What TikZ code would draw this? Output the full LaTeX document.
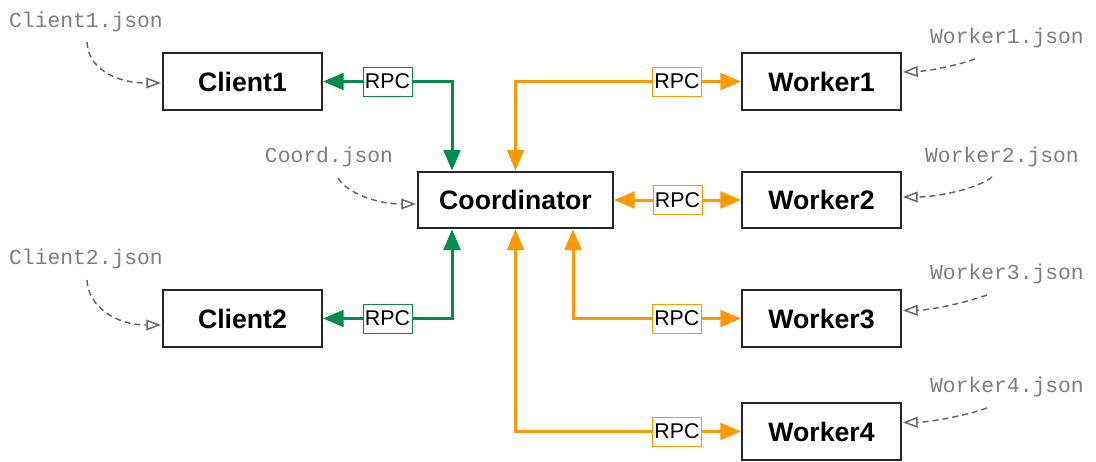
\documentclass[tikz,border=0pt]{standalone}
\usepackage{fontspec}
\setmainfont{Liberation Sans}
\setmonofont{Liberation Mono}
\usepackage{tikz}
\usetikzlibrary{calc}
\usetikzlibrary{positioning}
\usetikzlibrary{arrows.meta}

\definecolor{rpcgreen}{RGB}{0,140,75}
\definecolor{rpcorange}{RGB}{255,153,0}
\definecolor{cfggrey}{RGB}{100,100,100}
\definecolor{cfgtext}{RGB}{125,125,125}

\begin{document}
\begin{tikzpicture}[x=0.75pt,y=0.75pt,yscale=-1,xscale=1,
    proc/.style={draw=black!85, line width=1.5pt, fill=white, minimum height=42.5pt, inner sep=0pt, font=\fontsize{20}{24}\selectfont\bfseries},
    rpc/.style={draw=#1, line width=0.75pt, fill=white, text=black, inner sep=0pt, minimum width=36.75pt, minimum height=21.75pt, font=\fontsize{16}{19}\selectfont},
    cfg/.style={text=cfgtext, inner sep=0.75pt, font=\fontsize{16}{19}\selectfont\ttfamily},
    cfgline/.style={draw=cfggrey, line width=1.1pt, dash pattern=on 4.5pt off 3pt, -{Triangle[open, length=11pt, width=8pt]}},
    gline/.style={draw=rpcgreen, line width=2.25pt, {Triangle[length=15.5pt, width=12.5pt]}-{Triangle[length=15.5pt, width=12.5pt]}},
    oline/.style={draw=rpcorange, line width=2.25pt, {Triangle[length=15.5pt, width=12.5pt]}-{Triangle[length=15.5pt, width=12.5pt]}}
]
    \useasboundingbox (0,0) rectangle (1096,461);

    %Shape: Rectangle
    \node[proc, minimum width=146.25pt] (coord) at (515.5,200) {Coordinator};
    \node[proc, minimum width=119.25pt] (client1) at (242.5,81.5) {Client1};
    \node[proc, minimum width=119.25pt] (client2) at (242.5,318.5) {Client2};
    \node[proc, minimum width=119.25pt] (worker1) at (821.5,81.5) {Worker1};
    \node[proc, minimum width=119.25pt] (worker2) at (821.5,200) {Worker2};
    \node[proc, minimum width=119.25pt] (worker3) at (821.5,318.5) {Worker3};
    \node[proc, minimum width=119.25pt] (worker4) at (821.5,431.5) {Worker4};

    %Connector: RPC links
    \draw[gline] ($(coord.north)+(-63.5,0)$) |- node[rpc=rpcgreen, pos=0.75] {RPC} (client1.east);
    \draw[gline] ($(coord.south)+(-63.5,0)$) |- node[rpc=rpcgreen, pos=0.75] {RPC} (client2.east);
    \draw[oline] (coord.north) |- node[rpc=rpcorange, pos=0.858] {RPC} (worker1.west);
    \draw[oline] (coord.east) -- node[rpc=rpcorange] {RPC} (worker2.west);
    \draw[oline] ($(coord.south)+(57.5,0)$) |- node[rpc=rpcorange, pos=0.809] {RPC} (worker3.west);
    \draw[oline] (coord.south) |- node[rpc=rpcorange, pos=0.858] {RPC} (worker4.west);

    % Text Node
    \draw (86,22) node[cfg] (c1file) {Client1.json};
    % Text Node
    \draw (86,259) node[cfg] (c2file) {Client2.json};
    % Text Node
    \draw (329,157) node[cfg] (cofile) {Coord.json};
    % Text Node
    \draw (1007,38) node[cfg] (w1file) {Worker1.json};
    % Text Node
    \draw (1002,157) node[cfg] (w2file) {Worker2.json};
    % Text Node
    \draw (1007,274) node[cfg] (w3file) {Worker3.json};
    % Text Node
    \draw (1007,387) node[cfg] (w4file) {Worker4.json};

    %Curve: config files
    \coordinate (c1tail) at (87,42);
    \coordinate (c2tail) at (87,280);
    \coordinate (cotail) at (338,178);
    \coordinate (w1tail) at (975,59);
    \coordinate (w2tail) at (992,177);
    \coordinate (w3tail) at (987,295);
    \coordinate (w4tail) at (987,408);
    \draw[cfgline] (c1tail) .. controls (88,68) and (115,83) .. ($(client1.west)+(-1,1.5)$);
    \draw[cfgline] (c2tail) .. controls (88,306) and (115,325) .. ($(client2.west)+(-1,6.5)$);
    \draw[cfgline] (cotail) .. controls (346,192) and (375,204) .. ($(coord.west)+(-1,4)$);
    \draw[cfgline] (w1tail) .. controls (958,65) and (930,71) .. ($(worker1.east)+(1,-9.5)$);
    \draw[cfgline] (w2tail) .. controls (975,190) and (935,197) .. ($(worker2.east)+(1,-3)$);
    \draw[cfgline] (w3tail) .. controls (968,302) and (932,310) .. ($(worker3.east)+(1,-8)$);
    \draw[cfgline] (w4tail) .. controls (968,415) and (932,422) .. ($(worker4.east)+(1,-9)$);

\end{tikzpicture}
\end{document}
